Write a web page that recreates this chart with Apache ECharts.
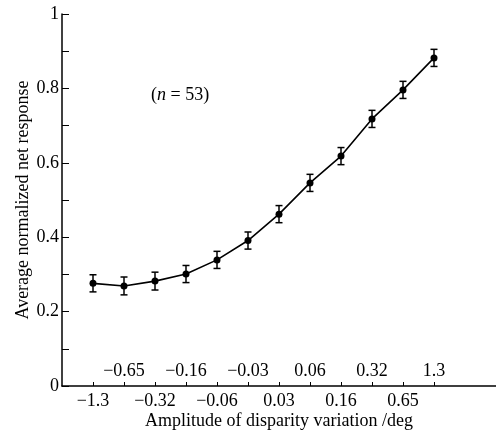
<!DOCTYPE html>
<html>
<head>
<meta charset="utf-8">
<script src="https://cdn.jsdelivr.net/npm/echarts@6/dist/echarts.min.js"></script>
<style>
  html, body { margin: 0; padding: 0; background: #fff; }
  #chart { width: 496px; height: 432px; }
</style>
</head>
<body>
<div id="chart"></div>
<script>
// disparity amplitudes (deg), in plotting order
const categories = ['−1.3', '−0.65', '−0.32', '−0.16', '−0.06', '−0.03', '0.03', '0.06', '0.16', '0.32', '0.65', '1.3'];
// mean normalized net response
const means = [0.276, 0.269, 0.282, 0.301, 0.339, 0.391, 0.462, 0.546, 0.618, 0.718, 0.796, 0.882];
// error bar half-length
const errors = [0.023, 0.024, 0.024, 0.023, 0.023, 0.023, 0.023, 0.023, 0.023, 0.023, 0.023, 0.023];
const yTicks = [0, 0.2, 0.4, 0.6, 0.8, 1];

const font = 'Liberation Serif';
const idx = categories.map((c, i) => i);
const evenIdx = idx.filter((i) => i % 2 === 0);
const oddIdx = idx.filter((i) => i % 2 === 1);

const chart = echarts.init(document.getElementById('chart'));

let option = {
  animation: false,
  grid: { left: 62, right: 0, top: 14, bottom: 46, outerBoundsMode: 'none', containLabel: false },
  xAxis: [
    {
      type: 'value',
      position: 'bottom',
      min: -1,
      max: 13,
      interval: 1,
      splitLine: { show: false },
      axisLine: { lineStyle: { color: '#000', width: 1.5 } },
      axisTick: { inside: true, length: 4, customValues: idx, lineStyle: { color: '#000' } },
      axisLabel: {
        customValues: evenIdx,
        formatter: (v) => categories[v],
        fontFamily: font,
        fontSize: 18,
        color: '#000',
        margin: 6,
      },
      name: 'Amplitude of disparity variation /deg',
      nameLocation: 'middle',
      nameMoveOverlap: false,
      nameGap: 26,
      nameTextStyle: { fontFamily: font, fontSize: 18, color: '#000' },
    },
    {
      type: 'value',
      position: 'bottom',
      min: -1,
      max: 13,
      interval: 1,
      splitLine: { show: false },
      axisLine: { show: false },
      axisTick: { show: false },
      axisLabel: {
        inside: true,
        customValues: oddIdx,
        formatter: (v) => categories[v],
        fontFamily: font,
        fontSize: 18,
        color: '#000',
        margin: 6,
      },
    },
  ],
  yAxis: {
    type: 'value',
    min: 0,
    max: 1,
    interval: 0.1,
    splitLine: { show: false },
    axisLine: { show: true, onZero: false, lineStyle: { color: '#000', width: 1.5 } },
    axisTick: { inside: true, length: 7, lineStyle: { color: '#000' } },
    axisLabel: {
      formatter: (v) => {
        const t = yTicks.find((y) => Math.abs(y - v) < 1e-6);
        return t === undefined ? '' : String(t);
      },
      fontFamily: font,
      fontSize: 18,
      color: '#000',
      margin: 3,
    },
    name: 'Average normalized net response',
    nameLocation: 'middle',
    nameMoveOverlap: false,
    nameGap: 30,
    nameTextStyle: { fontFamily: font, fontSize: 18, color: '#000' },
  },
  graphic: [
    {
      type: 'text',
      left: 151,
      top: 86,
      style: {
        text: '({i|n} = 53)',
        font: '18px "Liberation Serif"',
        fill: '#000',
        rich: { i: { fontStyle: 'italic', fontFamily: font, fontSize: 18, fill: '#000' } },
      },
    },
  ],
  series: [
    {
      type: 'custom',
      xAxisIndex: 0,
      renderItem: (params, api) => {
        const x = api.value(0);
        const lo = api.coord([x, api.value(1)]);
        const hi = api.coord([x, api.value(2)]);
        const w = 3.5;
        const style = { stroke: '#000', lineWidth: 1.5 };
        return {
          type: 'group',
          children: [
            { type: 'line', shape: { x1: lo[0], y1: lo[1], x2: hi[0], y2: hi[1] }, style },
            { type: 'line', shape: { x1: lo[0] - w, y1: lo[1], x2: lo[0] + w, y2: lo[1] }, style },
            { type: 'line', shape: { x1: hi[0] - w, y1: hi[1], x2: hi[0] + w, y2: hi[1] }, style },
          ],
        };
      },
      data: means.map((m, i) => [i, m - errors[i], m + errors[i]]),
      z: 3,
    },
    {
      type: 'line',
      xAxisIndex: 0,
      data: means.map((m, i) => [i, m]),
      symbol: 'circle',
      symbolSize: 7,
      itemStyle: { color: '#000' },
      lineStyle: { color: '#000', width: 1.6 },
      z: 4,
    },
  ],
};
chart.setOption(option);
</script>
</body>
</html>
